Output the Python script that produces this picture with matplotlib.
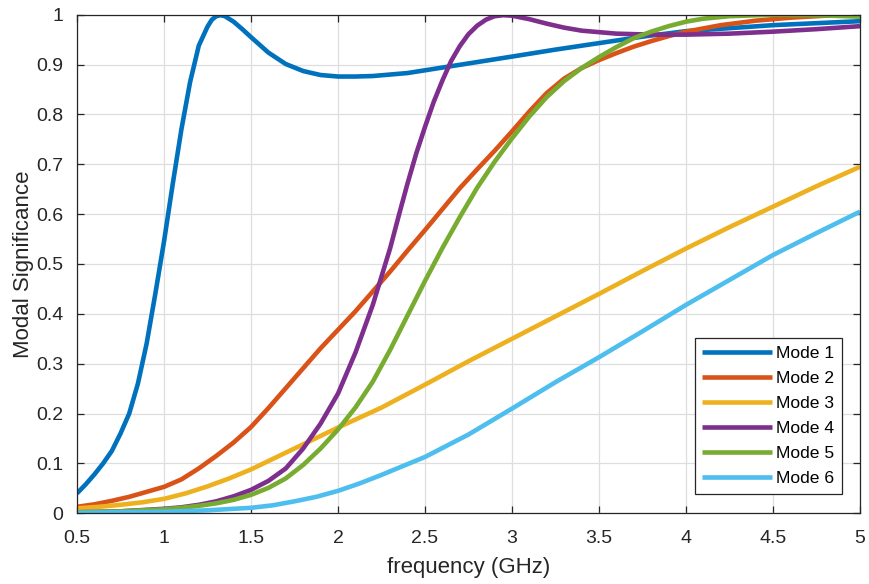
import matplotlib
matplotlib.use("Agg")
import matplotlib.pyplot as plt

# ---- data ----
f_mode1 = [0.5, 0.55, 0.6, 0.65, 0.7, 0.75, 0.8, 0.85, 0.9, 0.95, 1.0, 1.05, 1.1, 1.15, 1.2,
           1.25, 1.275, 1.3, 1.325, 1.35, 1.4, 1.45, 1.5, 1.6, 1.7, 1.8, 1.9, 2.0, 2.1, 2.2, 2.4, 2.6, 2.8, 3.0,
           3.25, 3.5, 3.75, 4.0, 4.5, 5.0]
ms_mode1 = [0.04, 0.058, 0.078, 0.10, 0.125, 0.16, 0.20, 0.26, 0.34, 0.44, 0.545, 0.66, 0.77, 0.865, 0.938,
            0.976, 0.99, 0.997, 0.999, 0.997, 0.986, 0.971, 0.955, 0.924, 0.901, 0.887, 0.879, 0.876, 0.876, 0.877, 0.883, 0.894, 0.905, 0.916,
            0.93, 0.943, 0.956, 0.967, 0.979, 0.987]

f_mode2 = [0.5, 0.6, 0.7, 0.8, 0.9, 1.0, 1.1, 1.2, 1.3, 1.4, 1.5, 1.6, 1.7, 1.8, 1.9, 2.0, 2.1, 2.2,
           2.3, 2.4, 2.5, 2.6, 2.7, 2.8, 2.9, 3.0, 3.1, 3.2, 3.3, 3.4, 3.5, 3.6, 3.7, 3.8, 3.9, 4.0,
           4.2, 4.4, 4.6, 4.8, 5.0]
ms_mode2 = [0.013, 0.018, 0.025, 0.033, 0.043, 0.053, 0.068, 0.09, 0.115, 0.142, 0.173, 0.211, 0.251, 0.291, 0.331, 0.368, 0.405, 0.445,
            0.485, 0.527, 0.568, 0.61, 0.652, 0.69, 0.727, 0.766, 0.806, 0.843, 0.872, 0.893, 0.909, 0.923, 0.936, 0.947, 0.957, 0.966,
            0.979, 0.988, 0.994, 0.998, 1.0]

f_mode3 = [0.5, 0.625, 0.75, 0.875, 1.0, 1.125, 1.25, 1.375, 1.5, 1.75, 2.0, 2.25, 2.5, 2.75, 3.0, 3.25, 3.5, 3.75, 4.0, 4.25, 4.5, 4.75, 5.0]
ms_mode3 = [0.01, 0.013, 0.017, 0.022, 0.029, 0.04, 0.054, 0.07, 0.088, 0.13, 0.172, 0.212, 0.258, 0.305, 0.35, 0.395, 0.44, 0.486, 0.531, 0.574, 0.615, 0.656, 0.695]

f_mode4 = [0.5, 0.75, 1.0, 1.1, 1.2, 1.3, 1.4, 1.5, 1.6, 1.7, 1.8, 1.9, 2.0, 2.1, 2.2, 2.3, 2.35, 2.4, 2.45, 2.5,
           2.55, 2.6, 2.65, 2.7, 2.75, 2.8, 2.85, 2.9, 2.95, 3.0, 3.1, 3.2, 3.3, 3.4, 3.5, 3.6, 3.8, 4.0, 4.25, 4.5, 4.75, 5.0]
ms_mode4 = [0.002, 0.004, 0.009, 0.012, 0.017, 0.024, 0.034, 0.047, 0.065, 0.09, 0.13, 0.18, 0.24, 0.322, 0.418, 0.532, 0.598, 0.662, 0.722, 0.775,
            0.825, 0.868, 0.907, 0.937, 0.961, 0.978, 0.99, 0.997, 0.999, 0.998, 0.991, 0.982, 0.974, 0.968, 0.965, 0.962, 0.96, 0.96, 0.962, 0.966, 0.971, 0.977]

f_mode5 = [0.5, 0.75, 1.0, 1.1, 1.2, 1.3, 1.4, 1.5, 1.6, 1.7, 1.8, 1.9, 2.0, 2.1, 2.2, 2.3, 2.4, 2.5,
           2.6, 2.7, 2.8, 2.9, 3.0, 3.1, 3.2, 3.3, 3.4, 3.5, 3.6, 3.7, 3.8, 3.9, 4.0, 4.1, 4.25, 4.5, 4.75, 5.0]
ms_mode5 = [0.002, 0.004, 0.008, 0.011, 0.015, 0.02, 0.027, 0.037, 0.051, 0.07, 0.097, 0.13, 0.168, 0.212, 0.264, 0.328, 0.397, 0.466,
            0.532, 0.594, 0.653, 0.705, 0.752, 0.796, 0.835, 0.867, 0.893, 0.915, 0.935, 0.953, 0.966, 0.977, 0.986, 0.992, 0.997, 1.0, 0.999, 0.996]

f_mode6 = [0.5, 0.75, 1.0, 1.25, 1.5, 1.625, 1.75, 1.875, 2.0, 2.125, 2.25, 2.375, 2.5, 2.75, 3.0, 3.25, 3.5, 3.75, 4.0, 4.25, 4.5, 4.75, 5.0]
ms_mode6 = [0.001, 0.002, 0.003, 0.006, 0.011, 0.016, 0.024, 0.033, 0.045, 0.06, 0.077, 0.095, 0.113, 0.158, 0.21, 0.263, 0.313, 0.365, 0.418, 0.468, 0.518, 0.562, 0.605]

labels = ["Mode 1", "Mode 2", "Mode 3", "Mode 4", "Mode 5", "Mode 6"]
colors = ["#0072BD", "#D95319", "#EDB120", "#7E2F8E", "#77AC30", "#4DBEEE"]
xticks = [0.5, 1, 1.5, 2, 2.5, 3, 3.5, 4, 4.5, 5]
xticklabels = ["0.5", "1", "1.5", "2", "2.5", "3", "3.5", "4", "4.5", "5"]
yticks = [0, 0.1, 0.2, 0.3, 0.4, 0.5, 0.6, 0.7, 0.8, 0.9, 1]
yticklabels = ["0", "0.1", "0.2", "0.3", "0.4", "0.5", "0.6", "0.7", "0.8", "0.9", "1"]

series = [(f_mode1, ms_mode1), (f_mode2, ms_mode2), (f_mode3, ms_mode3),
          (f_mode4, ms_mode4), (f_mode5, ms_mode5), (f_mode6, ms_mode6)]

plt.rcParams['font.family'] = ['Liberation Sans', 'DejaVu Sans']
txt = "#262626"

fig = plt.figure(figsize=(8.69, 5.84), dpi=100)
ax = fig.add_axes([77/869, 1 - 513.3/584, 783/869, 498.6/584])

for (f, v), lab, c in zip(series, labels, colors):
    ax.plot(f, v, color=c, lw=3.3, label=lab, solid_capstyle='butt', solid_joinstyle='round')

ax.set_xlim(0.5, 5)
ax.set_ylim(0, 1)
ax.set_xticks(xticks)
ax.set_xticklabels(xticklabels)
ax.set_yticks(yticks)
ax.set_yticklabels(yticklabels)
ax.grid(True, color="#dedede", lw=0.9)
ax.set_axisbelow(True)
ax.tick_params(direction='in', length=5, width=0.9, top=True, right=True,
               labelsize=14, colors=txt, pad=10)
ax.tick_params(axis='x', pad=12)
for s in ax.spines.values():
    s.set_color(txt)
    s.set_linewidth(0.9)

ax.set_xlabel("frequency (GHz)", fontsize=16, color=txt, labelpad=7)
ax.set_ylabel("Modal Significance", fontsize=16, color=txt, labelpad=1)

leg = ax.legend(loc='lower right', bbox_to_anchor=(0.977, 0.0387), borderaxespad=0,
                fontsize=12.6, handlelength=4.0, handletextpad=0.2, labelspacing=0.56,
                fancybox=False, framealpha=1, edgecolor=txt, borderpad=0.45)
leg.get_frame().set_linewidth(0.9)

fig.savefig("out.png", dpi=100)
